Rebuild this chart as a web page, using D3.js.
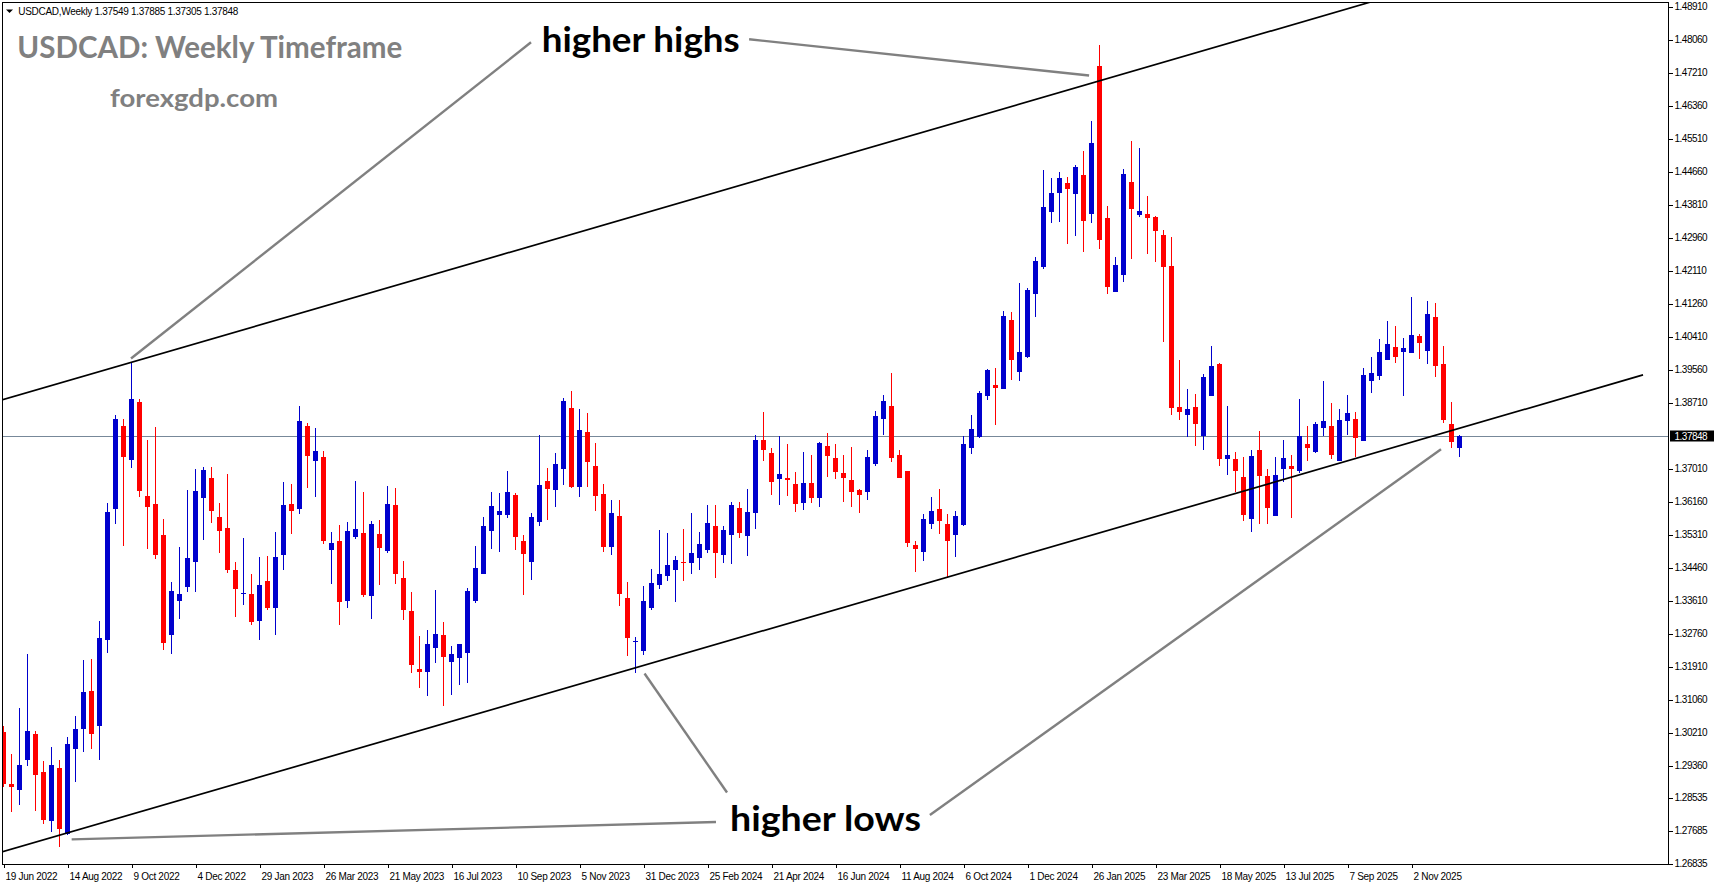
<!DOCTYPE html>
<html>
<head>
<meta charset="utf-8">
<script src="https://cdnjs.cloudflare.com/ajax/libs/d3/7.8.5/d3.min.js"></script>
<style>
  body { margin: 0; background: #ffffff; }
  svg { display: block; }
</style>
</head>
<body>
<div id="chart"></div>
<script>
////// DATA (weekly candles, first one = week of 19 Jun 2022)
var opens = [1.3024,1.2890,1.2873,1.2951,1.3018,1.2920,1.2794,1.2931,1.2760,1.2980,
  1.3030,1.3128,1.3039,1.3261,1.3598,1.3811,1.3723,1.3873,1.3631,1.3610,
  1.3530,1.3273,1.3361,1.3397,1.3461,1.3626,1.3677,1.3577,1.3548,1.3440,
  1.3380,1.3378,1.3309,1.3412,1.3343,1.3479,1.3610,1.3598,1.3811,1.3721,
  1.3731,1.3491,1.3515,1.3360,1.3525,1.3535,1.3373,1.3533,1.3489,1.3607,
  1.3419,1.3334,1.3185,1.3177,1.3239,1.3272,1.3203,1.3213,1.3226,1.3360,
  1.3430,1.3540,1.3582,1.3582,1.3633,1.3515,1.3461,1.3564,1.3669,1.3646,
  1.3700,1.3857,1.3655,1.3795,1.3708,1.3636,1.3500,1.3579,1.3368,1.3254,
  1.3232,1.3343,1.3401,1.3425,1.3440,1.3461,1.3458,1.3471,1.3491,1.3553,
  1.3479,1.3530,1.3600,1.3528,1.3587,1.3775,1.3741,1.3674,1.3677,1.3662,
  1.3613,1.3664,1.3626,1.3759,1.3728,1.3690,1.3672,1.3646,1.3642,1.3714,
  1.3830,1.3862,1.3735,1.3694,1.3505,1.3486,1.3558,1.3596,1.3558,1.3531,
  1.3555,1.3753,1.3782,1.3887,1.3917,1.3906,1.4084,1.3951,1.3988,1.4151,
  1.4220,1.4363,1.4412,1.4437,1.4409,1.4458,1.4358,1.4739,1.4346,1.4157,
  1.4199,1.4439,1.4354,1.4356,1.4349,1.4303,1.4223,1.3861,1.3839,1.3861,
  1.3784,1.3887,1.3971,1.3726,1.3725,1.3679,1.3572,1.3749,1.3682,1.3580,
  1.3699,1.3708,1.3696,1.3765,1.3745,1.3807,1.3811,1.3720,1.3825,1.3829,
  1.3772,1.3926,1.3940,1.3981,1.4015,1.4002,1.4000,1.4043,1.4005,1.4092,
  1.3971,1.3816,1.37549];
var highs = [1.3038,1.2966,1.3084,1.3224,1.3025,1.2948,1.2984,1.2951,1.3010,1.3064,
  1.3208,1.3211,1.3309,1.3613,1.3839,1.3829,1.3977,1.3881,1.3775,1.3808,
  1.3571,1.3409,1.3498,1.3646,1.3700,1.3705,1.3705,1.3613,1.3687,1.3461,
  1.3522,1.3430,1.3473,1.3477,1.3538,1.3667,1.3662,1.3862,1.3818,1.3806,
  1.3747,1.3538,1.3556,1.3564,1.3669,1.3641,1.3566,1.3569,1.3656,1.3651,
  1.3463,1.3383,1.3270,1.3285,1.3388,1.3306,1.3244,1.3249,1.3394,1.3502,
  1.3576,1.3641,1.3638,1.3695,1.3638,1.3530,1.3587,1.3788,1.3703,1.3741,
  1.3883,1.3901,1.3855,1.3844,1.3767,1.3662,1.3620,1.3620,1.3409,1.3268,
  1.3399,1.3443,1.3543,1.3535,1.3476,1.3546,1.3587,1.3538,1.3607,1.3607,
  1.3553,1.3615,1.3615,1.3649,1.3788,1.3847,1.3754,1.3785,1.3765,1.3692,
  1.3744,1.3736,1.3770,1.3793,1.3765,1.3736,1.3757,1.3649,1.3749,1.3849,
  1.3891,1.3947,1.3749,1.3694,1.3516,1.3584,1.3627,1.3649,1.3584,1.3593,
  1.3785,1.3839,1.3900,1.3959,1.3960,1.4107,1.4105,1.4179,1.4167,1.4246,
  1.4471,1.4451,1.4465,1.4452,1.4484,1.4519,1.4597,1.4793,1.4378,1.4246,
  1.4473,1.4546,1.4526,1.4404,1.4351,1.4317,1.4298,1.3980,1.3905,1.3893,
  1.3945,1.4017,1.3972,1.3863,1.3745,1.3731,1.3750,1.3798,1.3701,1.3732,
  1.3775,1.3737,1.3880,1.3811,1.3821,1.3927,1.3871,1.3856,1.3891,1.3847,
  1.3960,1.3989,1.4036,1.4081,1.4068,1.4038,1.4144,1.4049,1.4134,1.4129,
  1.4017,1.3873,1.37885];
var lows = [1.2880,1.2817,1.2835,1.2936,1.2819,1.2786,1.2766,1.2727,1.2757,1.2895,
  1.2972,1.2980,1.2951,1.3227,1.3559,1.3503,1.3704,1.3629,1.3495,1.3469,
  1.3235,1.3224,1.3315,1.3384,1.3384,1.3518,1.3562,1.3485,1.3433,1.3320,
  1.3351,1.3299,1.3261,1.3338,1.3273,1.3441,1.3534,1.3583,1.3651,1.3628,
  1.3507,1.3404,1.3298,1.3342,1.3520,1.3370,1.3314,1.3401,1.3484,1.3404,
  1.3311,1.3175,1.3136,1.3115,1.3200,1.3090,1.3118,1.3144,1.3149,1.3355,
  1.3430,1.3494,1.3486,1.3574,1.3491,1.3376,1.3414,1.3553,1.3569,1.3602,
  1.3659,1.3651,1.3629,1.3655,1.3593,1.3487,1.3479,1.3348,1.3219,1.3175,
  1.3222,1.3338,1.3391,1.3412,1.3358,1.3412,1.3430,1.3440,1.3484,1.3419,
  1.3458,1.3455,1.3522,1.3476,1.3546,1.3721,1.3633,1.3607,1.3631,1.3589,
  1.3595,1.3613,1.3603,1.3680,1.3674,1.3615,1.3602,1.3587,1.3620,1.3708,
  1.3787,1.3717,1.3678,1.3499,1.3436,1.3464,1.3546,1.3533,1.3420,1.3473,
  1.3553,1.3740,1.3780,1.3877,1.3814,1.3905,1.3930,1.3927,1.3986,1.4092,
  1.4215,1.4335,1.4337,1.4280,1.4300,1.4260,1.4334,1.4268,1.4152,1.4157,
  1.4182,1.4240,1.4350,1.4253,1.4233,1.4028,1.3839,1.3827,1.3782,1.3760,
  1.3750,1.3887,1.3709,1.3686,1.3642,1.3566,1.3538,1.3558,1.3558,1.3580,
  1.3666,1.3575,1.3689,1.3721,1.3742,1.3785,1.3725,1.3720,1.3787,1.3730,
  1.3772,1.3897,1.3930,1.3981,1.3974,1.3889,1.4000,1.3984,1.3971,1.3938,
  1.3819,1.3753,1.37305];
var closes = [1.2890,1.2880,1.2938,1.3025,1.2912,1.2796,1.2938,1.2773,1.2992,1.3030,
  1.3126,1.3018,1.3265,1.3589,1.3829,1.3732,1.3881,1.3644,1.3603,1.3479,
  1.3253,1.3386,1.3378,1.3471,1.3644,1.3698,1.3593,1.3541,1.3441,1.3392,
  1.3382,1.3307,1.3401,1.3343,1.3473,1.3607,1.3593,1.3824,1.3734,1.3747,
  1.3515,1.3510,1.3358,1.3540,1.3546,1.3376,1.3558,1.3497,1.3610,1.3430,
  1.3337,1.3195,1.3177,1.3249,1.3275,1.3216,1.3224,1.3249,1.3386,1.3445,
  1.3553,1.3605,1.3592,1.3641,1.3525,1.3481,1.3576,1.3659,1.3649,1.3713,
  1.3875,1.3654,1.3801,1.3719,1.3631,1.3498,1.3587,1.3379,1.3266,1.3256,
  1.3360,1.3406,1.3430,1.3453,1.3466,1.3457,1.3484,1.3507,1.3561,1.3484,
  1.3543,1.3607,1.3535,1.3589,1.3775,1.3749,1.3667,1.3687,1.3673,1.3611,
  1.3664,1.3626,1.3767,1.3734,1.3692,1.3677,1.3641,1.3634,1.3731,1.3836,
  1.3875,1.3729,1.3678,1.3509,1.3493,1.3572,1.3592,1.3565,1.3515,1.3580,
  1.3765,1.3804,1.3896,1.3955,1.3910,1.4094,1.3980,1.4001,1.4162,1.4235,
  1.4374,1.4412,1.4449,1.4422,1.4479,1.4339,1.4540,1.4290,1.4170,1.4225,
  1.4460,1.4370,1.4365,1.4346,1.4313,1.4221,1.3858,1.3846,1.3854,1.3817,
  1.3937,1.3965,1.3725,1.3735,1.3696,1.3582,1.3733,1.3683,1.3600,1.3686,
  1.3728,1.3699,1.3784,1.3753,1.3816,1.3824,1.3735,1.3826,1.3845,1.3780,
  1.3942,1.3947,1.4001,1.4022,1.3989,1.4012,1.4045,1.4026,1.4099,1.3966,
  1.3826,1.3771,1.37848];

// price axis labels (as printed by the terminal)
var priceTicks = [1.48910,1.48060,1.47210,1.46360,1.45510,1.44660,1.43810,1.42960,1.42110,
  1.41260,1.40410,1.39560,1.38710,1.37010,1.36160,1.35310,1.34460,1.33610,1.32760,
  1.31910,1.31060,1.30210,1.29360,1.28535,1.27685,1.26835];
var lastPrice = 1.37848;

// time axis labels, one every 8 candles
var dateLabels = ["19 Jun 2022","14 Aug 2022","9 Oct 2022","4 Dec 2022","29 Jan 2023",
  "26 Mar 2023","21 May 2023","16 Jul 2023","10 Sep 2023","5 Nov 2023","31 Dec 2023",
  "25 Feb 2024","21 Apr 2024","16 Jun 2024","11 Aug 2024","6 Oct 2024","1 Dec 2024",
  "26 Jan 2025","23 Mar 2025","18 May 2025","13 Jul 2025","7 Sep 2025","2 Nov 2025"];

// channel lines: [candle index, price]
var upperLine = [[-0.4375, 1.38766], [170.8, 1.49025]];
var lowerLine = [[-0.4375, 1.27123], [204.94, 1.39425]];

// grey pointer lines from the captions
var pointers = [
  [[65.94, 1.47993], [15.94, 1.39848]],
  [[93.2, 1.48071], [135.7, 1.47138]],
  [[89.06, 1.27908], [8.52, 1.27462]],
  [[90.44, 1.28668], [80.13, 1.31734]],
  [[115.8, 1.28089], [179.69, 1.37509]]
];

////// SETUP SVG
var W = 1714, H = 888;
var plot = { left: 2, top: 2, right: 1668.5, bottom: 864 };

var svg = d3.select("#chart")
  .append("svg")
  .attr("width", W)
  .attr("height", H)
  .style("font-family", "'Liberation Sans', Arial, sans-serif");

svg.append("rect").attr("width", W).attr("height", H).attr("fill", "#ffffff");

svg.append("clipPath").attr("id", "plotClip")
  .append("rect")
  .attr("x", plot.left).attr("y", plot.top)
  .attr("width", plot.right - plot.left).attr("height", plot.bottom - plot.top);

////// SCALES
// one candle every 8px
var x = d3.scaleLinear().domain([0, 182]).range([3.5, 3.5 + 8 * 182]);
var y = d3.scaleLinear().domain([1.26835, 1.48910]).range([863.7, 6.7]);

var candles = opens.map(function(o, i) {
  return { i: i, o: o, h: highs[i], l: lows[i], c: closes[i] };
});

var g = svg.append("g").attr("clip-path", "url(#plotClip)");

// current price line (behind candles)
g.append("line")
  .attr("x1", plot.left).attr("x2", plot.right)
  .attr("y1", Math.round(y(lastPrice)) + 0.5).attr("y2", Math.round(y(lastPrice)) + 0.5)
  .attr("stroke", "#778899").attr("stroke-width", 1);

////// CANDLES
var bull = "#0000cd", bear = "#ff0000";
var cg = g.append("g").attr("shape-rendering", "crispEdges");

cg.selectAll(".wick")
  .data(candles)
  .enter()
  .append("line")
  .attr("x1", function(d) { return x(d.i); })
  .attr("x2", function(d) { return x(d.i); })
  .attr("y1", function(d) { return y(d.h); })
  .attr("y2", function(d) { return y(d.l); })
  .attr("stroke", function(d) { return d.c >= d.o ? bull : bear; })
  .attr("stroke-width", 1);

cg.selectAll(".body")
  .data(candles)
  .enter()
  .append("rect")
  .attr("x", function(d) { return x(d.i) - 2.5; })
  .attr("width", 5)
  .attr("y", function(d) { return y(Math.max(d.o, d.c)); })
  .attr("height", function(d) { return Math.max(1, Math.abs(y(d.o) - y(d.c))); })
  .attr("fill", function(d) { return d.c >= d.o ? bull : bear; });

////// CHANNEL + POINTERS
var line = d3.line()
  .x(function(p) { return x(p[0]); })
  .y(function(p) { return y(p[1]); });

g.selectAll(".trend")
  .data([upperLine, lowerLine])
  .enter()
  .append("path")
  .attr("d", line)
  .attr("fill", "none")
  .attr("stroke", "#000000")
  .attr("stroke-width", 1.7);

g.selectAll(".pointer")
  .data(pointers)
  .enter()
  .append("path")
  .attr("d", line)
  .attr("fill", "none")
  .attr("stroke", "#808080")
  .attr("stroke-width", 2.4);

////// TEXTS
svg.append("text")
  .attr("x", 541.7).attr("y", 51.7)
  .attr("textLength", 198).attr("lengthAdjust", "spacingAndGlyphs")
  .style("font-family", "Lato, 'Open Sans', sans-serif")
  .style("font-weight", 700).style("font-size", "35px")
  .attr("fill", "#000000")
  .text("higher highs");

svg.append("text")
  .attr("x", 730).attr("y", 831)
  .attr("textLength", 191).attr("lengthAdjust", "spacingAndGlyphs")
  .style("font-family", "Lato, 'Open Sans', sans-serif")
  .style("font-weight", 700).style("font-size", "35px")
  .attr("fill", "#000000")
  .text("higher lows");

svg.append("text")
  .attr("x", 17.3).attr("y", 58.3)
  .attr("textLength", 385).attr("lengthAdjust", "spacingAndGlyphs")
  .style("font-family", "Lato, 'Open Sans', sans-serif")
  .style("font-weight", 700).style("font-size", "30px")
  .attr("fill", "#808080")
  .text("USDCAD: Weekly Timeframe");

svg.append("text")
  .attr("x", 110).attr("y", 107)
  .attr("textLength", 168).attr("lengthAdjust", "spacingAndGlyphs")
  .style("font-family", "Lato, 'Open Sans', sans-serif")
  .style("font-weight", 700).style("font-size", "25px")
  .attr("fill", "#808080")
  .text("forexgdp.com");

// header line with the last bar
svg.append("path")
  .attr("d", "M6,9.5 L13,9.5 L9.5,13 Z")
  .attr("fill", "#000000");
svg.append("text")
  .attr("x", 18.3).attr("y", 14.5)
  .style("font-size", "10px").style("letter-spacing", "-0.3px")
  .attr("fill", "#000000")
  .text("USDCAD,Weekly  " + [opens[182], highs[182], lows[182], closes[182]].map(d3.format(".5f")).join(" "));

////// AXES
// price axis on the right
var yAxis = svg.append("g")
  .attr("transform", "translate(" + plot.right + ",0)")
  .call(d3.axisRight(y).tickValues(priceTicks).tickSize(4).tickSizeOuter(0)
    .tickPadding(2).tickFormat(d3.format(".5f")));
yAxis.select(".domain").remove();
yAxis.selectAll("line").attr("stroke", "#000000").attr("shape-rendering", "crispEdges");
yAxis.selectAll("text")
  .attr("fill", "#000000")
  .style("font-family", "'Liberation Sans', Arial, sans-serif")
  .style("font-size", "10px")
  .style("letter-spacing", "-0.5px");

// time axis at the bottom
var xAxis = svg.append("g")
  .attr("transform", "translate(0," + plot.bottom + ")")
  .call(d3.axisBottom(x).tickValues(d3.range(0, 177, 8)).tickSize(4).tickSizeOuter(0)
    .tickFormat(function(d, k) { return dateLabels[k]; }));
xAxis.select(".domain").remove();
xAxis.selectAll("line").attr("stroke", "#000000").attr("shape-rendering", "crispEdges");
xAxis.selectAll("text")
  .attr("fill", "#000000")
  .attr("text-anchor", "start")
  .attr("x", 1.5)
  .attr("y", 9)
  .attr("dy", "0.71em")
  .style("font-family", "'Liberation Sans', Arial, sans-serif")
  .style("font-size", "10px")
  .style("letter-spacing", "-0.3px");

// frame
svg.append("rect")
  .attr("x", plot.left + 0.5).attr("y", plot.top + 0.5)
  .attr("width", plot.right - plot.left - 0.5).attr("height", plot.bottom - plot.top - 0.5)
  .attr("fill", "none").attr("stroke", "#000000").attr("stroke-width", 1)
  .attr("shape-rendering", "crispEdges");

// last price tag
var ty = Math.round(y(lastPrice));
svg.append("rect")
  .attr("x", plot.right + 1.5).attr("y", ty - 5.5)
  .attr("width", W - plot.right).attr("height", 11)
  .attr("fill", "#000000");
svg.append("text")
  .attr("x", plot.right + 6).attr("y", ty).attr("dy", "0.35em")
  .style("font-size", "10px").style("letter-spacing", "-0.5px")
  .attr("fill", "#ffffff")
  .text(d3.format(".5f")(lastPrice));
</script>
</body>
</html>
